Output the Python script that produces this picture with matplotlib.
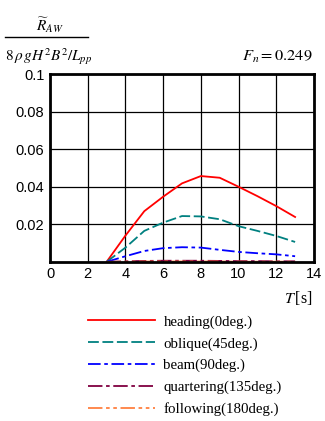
import matplotlib
matplotlib.use("Agg")
import matplotlib.pyplot as plt
from matplotlib.lines import Line2D

# ------------ DATA ------------
period = [3, 4, 5, 6, 7, 8, 9, 10, 11, 12, 13]
heading = [0.0, 0.0140, 0.0270, 0.0347, 0.0418, 0.0457, 0.0448, 0.0400, 0.0350, 0.0297, 0.0239]
oblique = [0.0, 0.0076, 0.0165, 0.0209, 0.0244, 0.0242, 0.0227, 0.0190, 0.0165, 0.0138, 0.0106]
beam = [0.0, 0.0030, 0.0058, 0.0073, 0.0078, 0.0076, 0.0064, 0.0053, 0.0046, 0.0040, 0.0030]
quartering = [0.0, 0.0003, 0.0005, 0.0006, 0.0006, 0.0006, 0.0005, 0.0004, 0.0004, 0.0003, 0.0003]
following = [0.0, 0.0001, 0.0002, 0.0002, 0.0002, 0.0002, 0.0002, 0.0001, 0.0001, 0.0001, 0.0001]

labels = ["heading(0deg.)", "oblique(45deg.)", "beam(90deg.)",
          "quartering(135deg.)", "following(180deg.)"]
colors = ["#ff0000", "#008080", "#0000ff", "#800040", "#ff8040"]
styles = ["-", (0, (6, 2)), (0, (7, 2, 2, 2)), (0, (8, 2, 2, 2)), (0, (8, 2, 2, 2, 2, 2))]

xticks = list(range(0, 15, 2))
yticks = [0.02, 0.04, 0.06, 0.08, 0.1]
ytick_labels = ["0.02", "0.04", "0.06", "0.08", "0.1"]

# ------------ FIGURE ------------
fig = plt.figure(figsize=(3.25, 4.21), dpi=100)
ax = fig.add_axes([0.154, 0.378, 0.812, 0.446])

series = [heading, oblique, beam, quartering, following]
for vals, c, ls in zip(series, colors, styles):
    ax.plot(period, vals, color=c, linestyle=ls, linewidth=1.3)

ax.set_xlim(0, 14)
ax.set_ylim(0, 0.1)
ax.set_xticks(xticks)
ax.set_yticks(yticks)
ax.set_yticklabels(ytick_labels)
ax.tick_params(length=0, labelsize=10.5, pad=4)
for lab in ax.get_xticklabels() + ax.get_yticklabels():
    lab.set_family("Liberation Sans")
ax.grid(True, color="black", linewidth=0.9)
for sp in ax.spines.values():
    sp.set_linewidth(2)

serif = "Liberation Serif"
# y label as fraction
fig.text(0.155, 0.94, r"$\widetilde{R}_{AW}$", ha="center", va="center", fontsize=11,
         family=serif, math_fontfamily="stix")
fig.add_artist(Line2D([0.015, 0.27], [0.912, 0.912], color="black", linewidth=1))
fig.text(0.015, 0.865, r"$8\,\rho\,gH^2B^2/L_{pp}$", ha="left", va="center", fontsize=11,
         math_fontfamily="stix")
fig.text(0.962, 0.865, r"$F_n = 0.249$", ha="right", va="center", fontsize=11.8,
         math_fontfamily="stix")
fig.text(0.962, 0.292, r"$T\,$[s]", ha="right", va="center", fontsize=11.5,
         math_fontfamily="stix", family=serif)

# legend
handles = [Line2D([], [], color=c, linestyle=ls, linewidth=1.3) for c, ls in zip(colors, styles)]
leg = fig.legend(handles, labels, loc="upper left", bbox_to_anchor=(0.231, 0.283),
                 frameon=False, handlelength=4.5, handletextpad=0.55, labelspacing=0.55,
                 prop={"family": serif, "size": 10.7})

fig.savefig("out.png", dpi=100)
